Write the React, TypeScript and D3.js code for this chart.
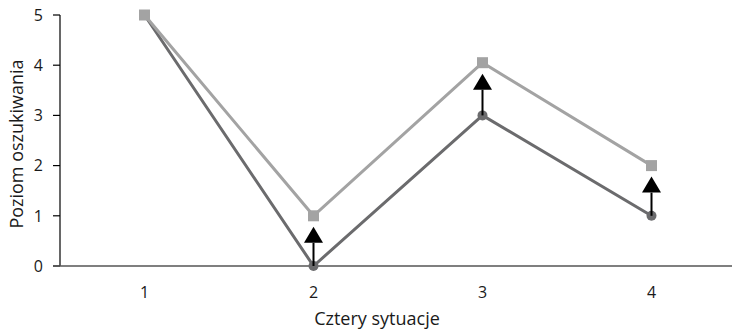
import React from "react";
import * as d3 from "d3";

const categories = ["1", "2", "3", "4"];
const darkValues = [5, 0, 3, 1];
const lightValues = [5, 1, 4.05, 2];
const arrowIndices = [1, 2, 3];
const yTicks = [0, 1, 2, 3, 4, 5];

const W = 732;
const H = 333;
const font = "'Open Sans', 'Noto Sans', sans-serif";

export default function App() {
  const x = d3.scaleBand<string>().domain(categories).range([60, 736]);
  const y = d3.scaleLinear().domain([0, 5]).range([266, 15]);
  const cx = (c: string) => (x(c) as number) + x.bandwidth() / 2;

  const line = d3
    .line<number>()
    .x((_, i) => cx(categories[i]))
    .y((d) => y(d));

  const dark = "#6b6b6d";
  const light = "#a3a3a3";

  return (
    <svg width={W} height={H} style={{ position: "absolute", left: 0, top: 0 }}>
      {/* y axis */}
      <line x1={60} x2={60} y1={15} y2={266} stroke="#000" strokeWidth={1.2} />
      {yTicks.map((t) => (
        <g key={t}>
          <line x1={53} x2={60} y1={y(t)} y2={y(t)} stroke="#000" strokeWidth={1.2} />
          <text
            x={43}
            y={y(t)}
            dy="0.36em"
            textAnchor="end"
            fontFamily={font}
            fontSize={16}
            fill="#1a1a1a"
          >
            {t}
          </text>
        </g>
      ))}
      {/* x axis */}
      <line x1={53} x2={732} y1={266} y2={266} stroke="#555" strokeWidth={1.4} />
      {categories.map((c) => (
        <text
          key={c}
          x={cx(c)}
          y={298}
          textAnchor="middle"
          fontFamily={font}
          fontSize={16}
          fill="#1a1a1a"
        >
          {c}
        </text>
      ))}
      <text
        x={377}
        y={325}
        textAnchor="middle"
        fontFamily={font}
        fontSize={18}
        fill="#1a1a1a"
      >
        Cztery sytuacje
      </text>
      <text
        transform={`translate(23, 144) rotate(-90)`}
        textAnchor="middle"
        fontFamily={font}
        fontSize={18}
        fill="#1a1a1a"
      >
        Poziom oszukiwania
      </text>

      {/* lines */}
      <path d={line(darkValues) || ""} fill="none" stroke={dark} strokeWidth={3} />
      <path d={line(lightValues) || ""} fill="none" stroke={light} strokeWidth={3} />

      {/* markers */}
      {darkValues.map((v, i) => (
        <circle key={"c" + i} cx={cx(categories[i])} cy={y(v)} r={5} fill={dark} />
      ))}
      {lightValues.map((v, i) => (
        <rect
          key={"s" + i}
          x={cx(categories[i]) - 5.5}
          y={y(v) - 5.5}
          width={11}
          height={11}
          fill={light}
        />
      ))}

      {/* arrows */}
      {arrowIndices.map((i) => {
        const px = cx(categories[i]);
        const y0 = y(darkValues[i]);
        const tip = y(lightValues[i]) + 11;
        const base = tip + 16;
        return (
          <g key={"a" + i}>
            <line x1={px} x2={px} y1={y0} y2={base} stroke="#000" strokeWidth={2} />
            <path d={`M${px},${tip} L${px - 9.5},${base} L${px + 9.5},${base} Z`} fill="#000" />
          </g>
        );
      })}
    </svg>
  );
}
